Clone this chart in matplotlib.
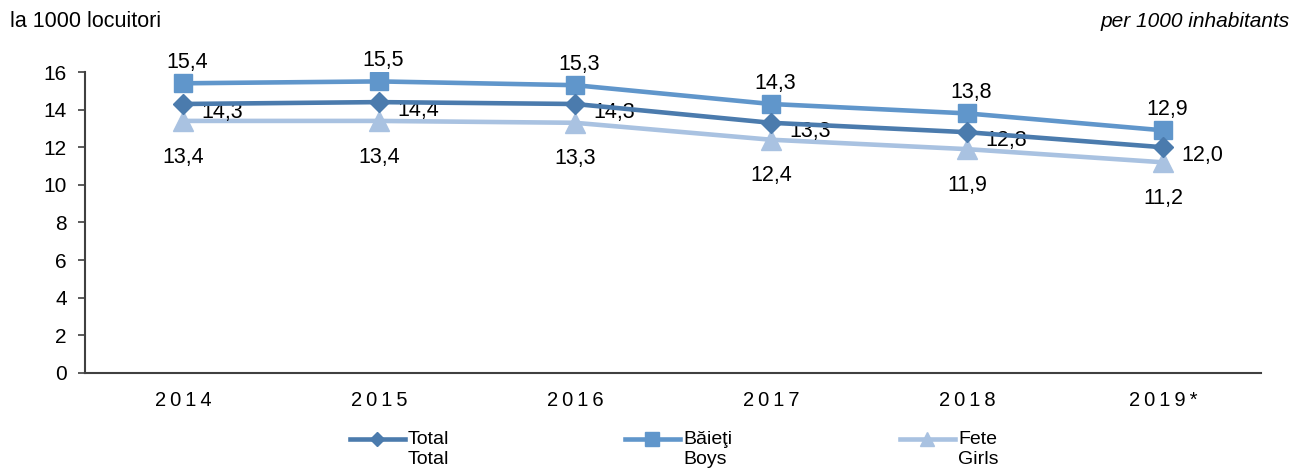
import matplotlib.pyplot as plt
from matplotlib.lines import Line2D

plt.rcParams['font.family'] = ['Liberation Sans', 'DejaVu Sans']

# date
ani = ['2014', '2015', '2016', '2017', '2018', '2019*']
total = [14.3, 14.4, 14.3, 13.3, 12.8, 12.0]
baieti = [15.4, 15.5, 15.3, 14.3, 13.8, 12.9]
fete = [13.4, 13.4, 13.3, 12.4, 11.9, 11.2]
serii = [('Total', 'Total'), ('Băieţi', 'Boys'), ('Fete', 'Girls')]

c_total = '#4B7BAD'
c_baieti = '#6096CB'
c_fete = '#A9C2E1'
ax_col = '#404040'

W, H = 1294, 470
fig = plt.figure(figsize=(W / 100, H / 100), dpi=100)
ax = fig.add_axes([0.0657, 0.2064, 0.9088, 0.6404])

x = list(range(len(ani)))
stiluri = [(total, c_total, 'D', 10, 4), (baieti, c_baieti, 's', 13, 3), (fete, c_fete, '^', 14, 2)]
for vals, col, mk, ms, z in stiluri:
    ax.plot(x, vals, color=col, lw=3.3, marker=mk, ms=ms, zorder=z)

fs = 15.5
for i in x:
    ax.annotate(f'{baieti[i]:.1f}'.replace('.', ','), (i, baieti[i]), xytext=(3, 15),
                textcoords='offset points', ha='center', va='center', fontsize=fs)
    ax.annotate(f'{total[i]:.1f}'.replace('.', ','), (i, total[i]), xytext=(13, -6),
                textcoords='offset points', ha='left', va='center', fontsize=fs)
    ax.annotate(f'{fete[i]:.1f}'.replace('.', ','), (i, fete[i]), xytext=(0, -26),
                textcoords='offset points', ha='center', va='center', fontsize=fs)

ax.set_xlim(-0.5, len(ani) - 0.5)
ax.set_ylim(0, 16)
ax.set_yticks(range(0, 17, 2))
ax.set_xticks(x)
ax.set_xticklabels(['\u2009'.join(a) for a in ani], fontsize=14.5)
ax.tick_params(axis='y', labelsize=15, direction='out', length=5, width=1.2, color=ax_col, pad=8)
ax.tick_params(axis='x', length=0, pad=13)
for s in ['top', 'right']:
    ax.spines[s].set_visible(False)
for s in ['left', 'bottom']:
    ax.spines[s].set_color(ax_col)
    ax.spines[s].set_linewidth(1.5)

fig.text(0.008, 0.955, 'la 1000 locuitori', fontsize=15.5, ha='left', va='center')
fig.text(0.997, 0.955, 'per 1000 inhabitants', fontsize=15, ha='right', va='center', style='italic')

# legenda (manuala, ca in original)
leg_font = ['Liberation Sans Narrow', 'Liberation Sans', 'DejaVu Sans']
leg_x = [350, 625, 900]
for (ro, en), (vals, col, mk, ms, z), x0 in zip(serii, stiluri, leg_x):
    y0 = 1 - 439 / H
    xs = [x0 / W, (x0 + 27) / W, (x0 + 55) / W]
    fig.add_artist(Line2D(xs, [y0] * 3, transform=fig.transFigure, color=col, lw=3.3,
                          marker=mk, ms=ms * 0.75, markevery=[1]))
    fig.text((x0 + 58) / W, y0, ro, fontsize=14, family=leg_font, ha='left', va='center')
    fig.text((x0 + 58) / W, 1 - 460 / H, en, fontsize=14, family=leg_font, ha='left', va='center')

fig.savefig('out.png', dpi=100)
